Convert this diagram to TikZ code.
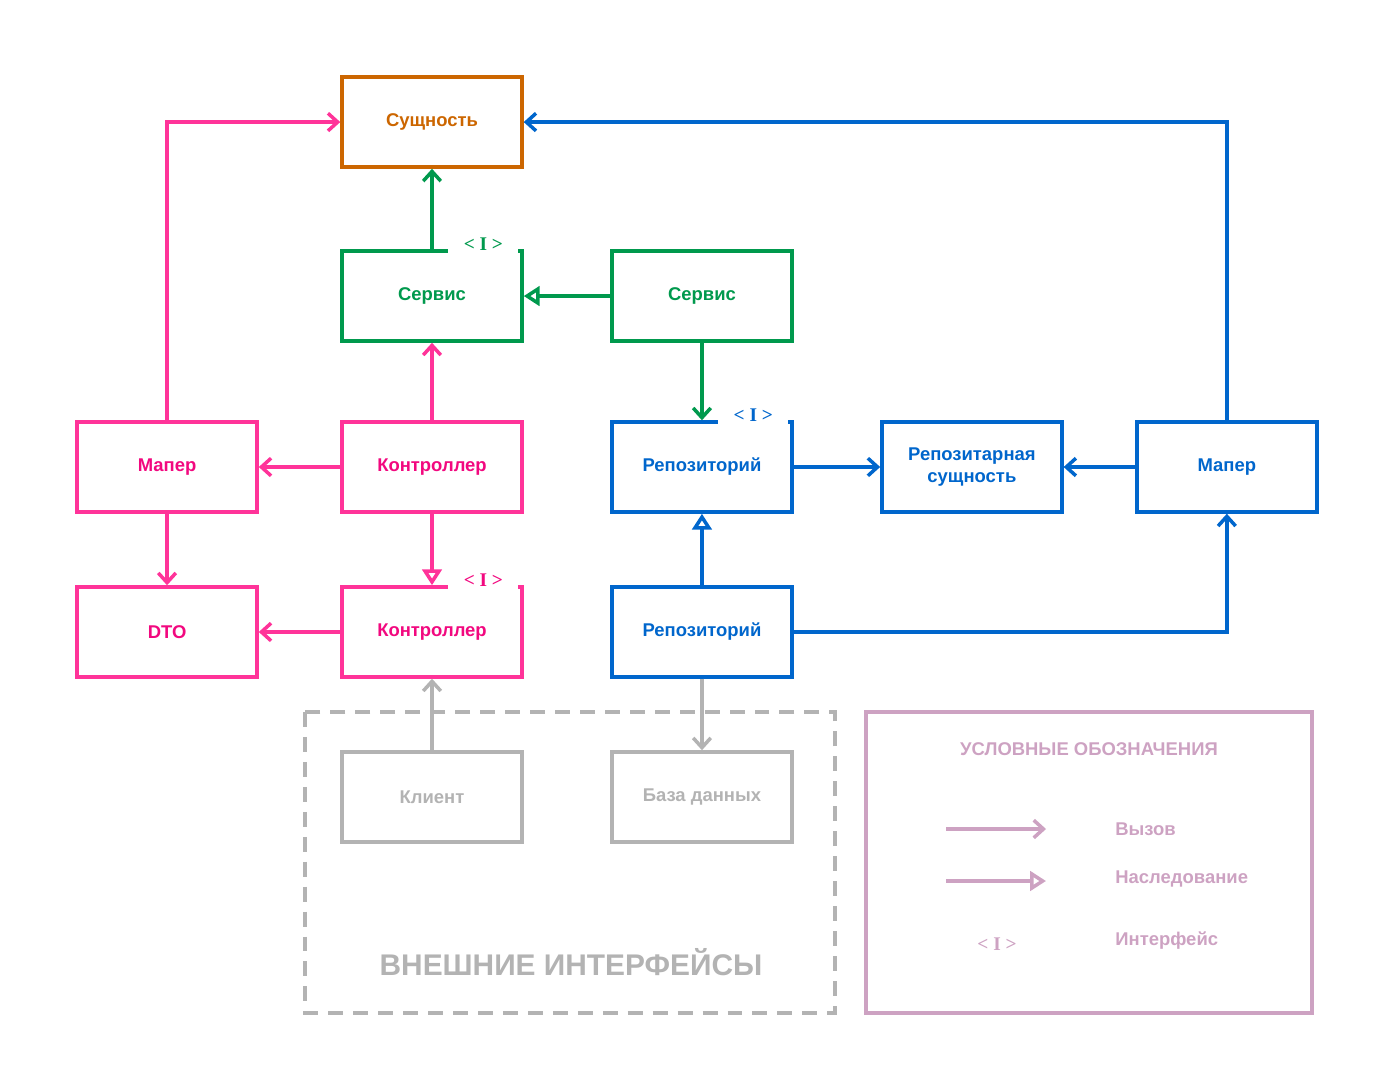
\documentclass[tikz,border=0pt]{standalone}
\usepackage{fontspec}
\setmainfont{Liberation Sans}
\newfontfamily\ifacefont{Liberation Serif}
\usepackage{xcolor}
\usepackage{tikz}
\usetikzlibrary{arrows.meta}
\definecolor{entOrange}{HTML}{CC6600}
\definecolor{srvGreen}{HTML}{00994D}
\definecolor{ctrlPink}{HTML}{FF3399}
\definecolor{ctrlPinkText}{HTML}{F2087F}
\definecolor{repBlue}{HTML}{0066CC}
\definecolor{extGray}{HTML}{B3B3B3}
\definecolor{legMauve}{HTML}{CDA2C2}

\begin{document}
\begin{tikzpicture}[x=0.02cm, y=-0.02cm, node distance=3.3cm,
    every node/.style={font=\fontsize{10.5pt}{13pt}\selectfont\bfseries, align=center},
    box/.style={draw, line width=2pt, fill=white, minimum width=3.6cm, minimum height=1.8cm},
    iface/.style={fill=white, inner sep=0pt, minimum width=1.4cm, minimum height=0.38cm, anchor=south east, font=\ifacefont\fontsize{11pt}{13pt}\selectfont\bfseries},
    call/.style={line width=2pt, -{Straight Barb[length=5.5pt, width=10pt]}},
    inh/.style={line width=2pt, -{Triangle[open, fill=white, length=9pt, width=11pt]}}]

        \useasboundingbox (0,0) rectangle (1395,1091);

        \node (ctrl) [box, draw=ctrlPink, text=ctrlPinkText] at (432,467) {Контроллер};
        \node (srvI) [box, above of=ctrl, yshift=0.12cm, draw=srvGreen, text=srvGreen] {Сервис};
        \node (ent) [box, above of=srvI, yshift=0.18cm, draw=entOrange, text=entOrange] {Сущность};
        \node (ctrlI) [box, below of=ctrl, draw=ctrlPink, text=ctrlPinkText] {Контроллер};
        \node (cli) [box, below of=ctrlI, draw=extGray, text=extGray] {Клиент};
        \node (mapP) [box, left of=ctrl, xshift=-2.0cm, draw=ctrlPink, text=ctrlPinkText] {Мапер};
        \node (dto) [box, below of=mapP, draw=ctrlPink, text=ctrlPinkText] {DTO};

        \node (repI) [box, right of=ctrl, xshift=2.1cm, draw=repBlue, text=repBlue] {Репозиторий};
        \node (srv) [box, above of=repI, yshift=0.12cm, draw=srvGreen, text=srvGreen] {Сервис};
        \node (rep) [box, below of=repI, draw=repBlue, text=repBlue] {Репозиторий};
        \node (db) [box, below of=rep, draw=extGray, text=extGray] {База данных};
        \node (rent) [box, right of=repI, xshift=2.1cm, draw=repBlue, text=repBlue] {Репозитарная\\сущность};
        \node (mapB) [box, right of=rent, xshift=1.8cm, draw=repBlue, text=repBlue] {Мапер};

        \node (srvTag) [iface, text=srvGreen] at ([xshift=-0.1cm, yshift=-0.1cm]srvI.north east) {< I >};
        \node (repTag) [iface, text=repBlue] at ([xshift=-0.1cm, yshift=-0.1cm]repI.north east) {< I >};
        \node (ctrlTag) [iface, text=ctrlPinkText] at ([xshift=-0.1cm, yshift=-0.1cm]ctrlI.north east) {< I >};

        \draw[call, ctrlPink] (mapP.north) |- (ent.west);
        \draw[call, srvGreen] (srvI.north) -- (ent.south);
        \draw[inh, srvGreen] (srv.west) -- (srvI.east);
        \draw[call, srvGreen] (srv.south) -- (repI.north);
        \draw[call, ctrlPink] (ctrl.north) -- (srvI.south);
        \draw[call, ctrlPink] (ctrl.west) -- (mapP.east);
        \draw[inh, ctrlPink] (ctrl.south) -- (ctrlI.north);
        \draw[call, ctrlPink] (mapP.south) -- (dto.north);
        \draw[call, ctrlPink] (ctrlI.west) -- (dto.east);
        \draw[call, repBlue] (repI.east) -- (rent.west);
        \draw[call, repBlue] (mapB.west) -- (rent.east);
        \draw[call, repBlue] (mapB.north) |- (ent.east);
        \draw[inh, repBlue] (rep.north) -- (repI.south);
        \draw[call, repBlue] (rep.east) -| (mapB.south);
        \draw[call, extGray] (cli.north) -- (ctrlI.south);
        \draw[call, extGray] (rep.south) -- (db.north);

        \draw[extGray, line width=2pt, dash pattern=on 8.5pt off 5.7pt] (305,712) rectangle (835,1013);
        \node (extTitle) [text=extGray, font=\fontsize{17pt}{20pt}\selectfont\bfseries] at (571,962) {ВНЕШНИЕ ИНТЕРФЕЙСЫ};

        \draw[legMauve, line width=2pt] (866,712) rectangle (1312,1013);
        \node (legTitle) [text=legMauve] at (1089,749) {УСЛОВНЫЕ ОБОЗНАЧЕНИЯ};
        \coordinate (callA) at (946,829);
        \coordinate (callB) at (1046,829);
        \coordinate (inhA) at (946,881);
        \coordinate (inhB) at (1046,881);
        \draw[call, legMauve] (callA) -- (callB);
        \draw[inh, legMauve] (inhA) -- (inhB);
        \node (legTag) [text=legMauve, font=\ifacefont\fontsize{11pt}{13pt}\selectfont\bfseries] at (997,944) {< I >};
        \node (legCall) [text=legMauve, anchor=west, inner sep=0pt] at (1115,829) {Вызов};
        \node (legInh) [text=legMauve, anchor=west, inner sep=0pt] at (1115,879) {Наследование};
        \node (legIface) [text=legMauve, anchor=west, inner sep=0pt] at (1115,941) {Интерфейс};
    \end{tikzpicture}
\end{document}
